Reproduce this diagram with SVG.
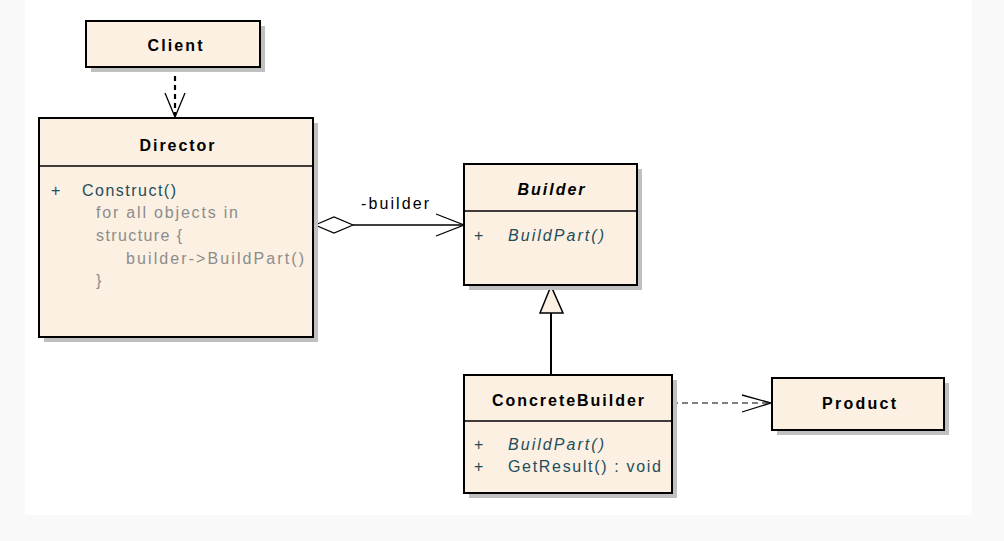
<svg xmlns="http://www.w3.org/2000/svg" width="1004" height="541" viewBox="0 0 1004 541">
<style>
.box{fill:#fbf0e2;stroke:#000;stroke-width:2}
.shadow{fill:#c0c0c0}
.div{stroke:#000;stroke-width:1.3}
.title{font-family:"Liberation Sans",Arial,sans-serif;font-weight:bold;font-size:16px;fill:#000;text-anchor:middle}
.mem{font-family:"Liberation Sans",Arial,sans-serif;font-size:16px;fill:#1e4d5c}
.code{font-family:"Liberation Sans",Arial,sans-serif;font-size:16px;fill:#8c8c8c}
.lbl{font-family:"Liberation Sans",Arial,sans-serif;font-size:16px;fill:#000}
.ln{stroke:#000;stroke-width:1.3;fill:none}
</style>
<rect x="0" y="0" width="1004" height="541" fill="#f9f9f9"/>
<rect x="25" y="0" width="947" height="515" fill="#ffffff"/>

<g id="connectors">
  <g id="client-director">
    <line x1="175" y1="67" x2="175" y2="116" stroke="#000" stroke-width="2.2" stroke-dasharray="5,4"/>
    <polyline points="165,93 175,117 185,93" class="ln"/>
  </g>
  <g id="director-builder">
    <polygon points="315,225 334,217 353,225 334,233" fill="#fff" stroke="#000" stroke-width="1.2"/>
    <line x1="353" y1="225" x2="464" y2="225" class="ln"/>
    <polyline points="436,214 464,225 436,236" class="ln"/>
    <text x="361" y="209" class="lbl" textLength="68" lengthAdjust="spacing">-builder</text>
  </g>
  <g id="concrete-builder">
    <line x1="551" y1="313" x2="551" y2="375" stroke="#000" stroke-width="2"/>
    <polygon points="551,286 540,313 563,313" fill="#fbf0e2" stroke="#000" stroke-width="1.5"/>
  </g>
  <g id="concrete-product">
    <line x1="672" y1="403" x2="770" y2="403" stroke="#000" stroke-width="1.2" stroke-dasharray="6,4"/>
    <polyline points="742,395 771,403 742,412" class="ln"/>
  </g>
</g>

<g id="client">
  <rect x="91" y="26" width="174" height="46" class="shadow"/>
  <rect x="86" y="21" width="174" height="46" class="box"/>
  <text x="175" y="51" class="title" textLength="55" lengthAdjust="spacing">Client</text>
</g>

<g id="director">
  <rect x="44" y="123" width="274" height="219" class="shadow"/>
  <rect x="39" y="118" width="274" height="219" class="box"/>
  <line x1="39" y1="166" x2="313" y2="166" class="div"/>
  <text x="177" y="151" class="title" textLength="75" lengthAdjust="spacing">Director</text>
  <text x="51" y="196" class="mem">+</text>
  <text x="82" y="196" class="mem" textLength="94" lengthAdjust="spacing">Construct()</text>
  <text x="96" y="218" class="code" textLength="142" lengthAdjust="spacing">for all objects in</text>
  <text x="96" y="241" class="code" textLength="86" lengthAdjust="spacing">structure {</text>
  <text x="126" y="264" class="code" textLength="178" lengthAdjust="spacing">builder-&gt;BuildPart()</text>
  <text x="96" y="286" class="code">}</text>
</g>

<g id="builder">
  <rect x="469" y="169" width="173" height="121" class="shadow"/>
  <rect x="464" y="164" width="173" height="121" class="box"/>
  <line x1="464" y1="211" x2="637" y2="211" class="div"/>
  <text x="551" y="195" class="title" font-style="italic" textLength="67" lengthAdjust="spacing">Builder</text>
  <text x="474" y="241" class="mem">+</text>
  <text x="508" y="241" class="mem" font-style="italic" textLength="96" lengthAdjust="spacing">BuildPart()</text>
</g>

<g id="concretebuilder">
  <rect x="469" y="380" width="208" height="118" class="shadow"/>
  <rect x="464" y="375" width="208" height="118" class="box"/>
  <line x1="464" y1="421" x2="672" y2="421" class="div"/>
  <text x="568" y="406" class="title" textLength="152" lengthAdjust="spacing">ConcreteBuilder</text>
  <text x="474" y="450" class="mem">+</text>
  <text x="508" y="450" class="mem" font-style="italic" textLength="96" lengthAdjust="spacing">BuildPart()</text>
  <text x="474" y="472" class="mem">+</text>
  <text x="508" y="472" class="mem" textLength="153" lengthAdjust="spacing">GetResult() : void</text>
</g>

<g id="product">
  <rect x="777" y="383" width="172" height="52" class="shadow"/>
  <rect x="772" y="378" width="172" height="52" class="box"/>
  <text x="859" y="409" class="title" textLength="74" lengthAdjust="spacing">Product</text>
</g>
</svg>
